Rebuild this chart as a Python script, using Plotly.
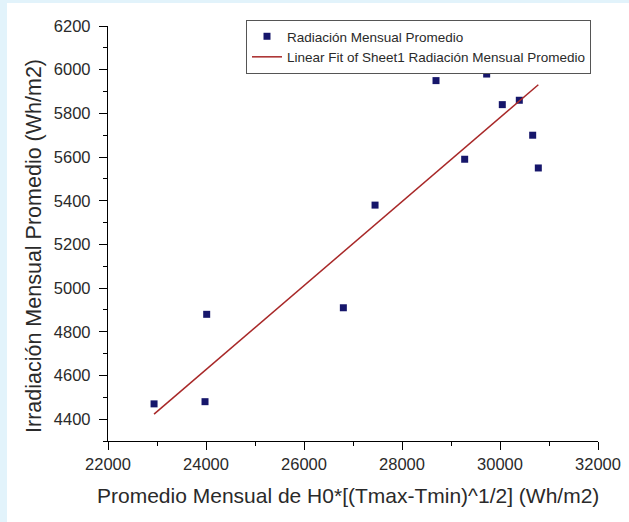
import plotly.graph_objects as go

# Data (monthly points)
x_vals = [22940, 24014, 23980, 26803, 27450, 28694, 29728, 30047, 30394, 30667, 30782, 29279]
y_vals = [4470, 4880, 4480, 4910, 5380, 5950, 5980, 5840, 5860, 5700, 5550, 5590]
series_name = "Radiación Mensual Promedio"
fit_name = "Linear Fit of Sheet1 Radiación Mensual Promedio"
x_ticks = [22000, 24000, 26000, 28000, 30000, 32000]
y_ticks = [4400, 4600, 4800, 5000, 5200, 5400, 5600, 5800, 6000, 6200]
# Linear fit parameters as drawn in the reference
fit_slope = 0.1923
fit_intercept = 11.5

fx = [min(x_vals), max(x_vals)]
fy = [fit_slope * v + fit_intercept for v in fx]

FONT = "Liberation Sans, Arial, sans-serif"
TXT = "#2a2a2a"
W, H = 629, 522
L, R, T, B = 108, 31, 26, 81

fig = go.Figure()
fig.add_trace(go.Scatter(x=x_vals, y=y_vals, mode="markers", name=series_name,
                         marker=dict(symbol="square", size=7, color="#16166b",
                                     line=dict(width=0))))
fig.add_trace(go.Scatter(x=fx, y=fy, mode="lines", name=fit_name,
                         line=dict(color="#a82828", width=1.5)))

axis_common = dict(showgrid=False, zeroline=False, showline=True, linecolor="black",
                   linewidth=1.3, ticks="outside", ticklen=8, tickwidth=1.3,
                   tickcolor="black", tickfont=dict(family=FONT, size=16.5, color=TXT),
                   mirror=False, automargin=False)
fig.update_xaxes(range=[22000, 32000], tickvals=x_ticks, ticktext=[str(v) for v in x_ticks],
                 minor=dict(dtick=1000, ticks="outside", ticklen=4, tickcolor="black", tickwidth=1.3),
                 **axis_common)
fig.update_yaxes(range=[4300, 6200], tickvals=y_ticks, ticktext=[str(v) for v in y_ticks],
                 ticklabelstandoff=5,
                 minor=dict(dtick=100, tick0=4300, ticks="outside", ticklen=4, tickcolor="black", tickwidth=1.3),
                 **axis_common)

pw = W - L - R
ph = H - T - B
def px(xp):
    return (xp - L) / pw
def py(yp):
    return (H - B - yp) / ph

fig.update_layout(
    width=W, height=H,
    margin=dict(l=L, r=R, t=T, b=B, autoexpand=False),
    paper_bgcolor="#e2f3fb", plot_bgcolor="white",
    font=dict(family=FONT, color=TXT),
    showlegend=True,
    legend=dict(x=px(246), y=py(20), xanchor="left", yanchor="top",
                bgcolor="white", bordercolor="#555", borderwidth=1,
                font=dict(family=FONT, size=13.5, color=TXT),
                tracegroupgap=0, itemwidth=30),
    shapes=[dict(type="rect", xref="paper", yref="paper", layer="below",
                 x0=px(7), x1=px(640), y0=py(3), y1=py(530),
                 fillcolor="white", line=dict(width=0))],
    annotations=[
        dict(text="Promedio Mensual de H0*[(Tmax-Tmin)^1/2] (Wh/m2)", xref="paper", yref="paper",
             x=px(348), y=py(495), xanchor="center", yanchor="middle", showarrow=False,
             font=dict(family=FONT, size=21, color=TXT)),
        dict(text="Irradiación Mensual Promedio (Wh/m2)", xref="paper", yref="paper",
             x=px(34), y=py(246), xanchor="center", yanchor="middle", showarrow=False, textangle=-90,
             font=dict(family=FONT, size=21.5, color=TXT)),
    ],
)
fig.write_html("out.html")
